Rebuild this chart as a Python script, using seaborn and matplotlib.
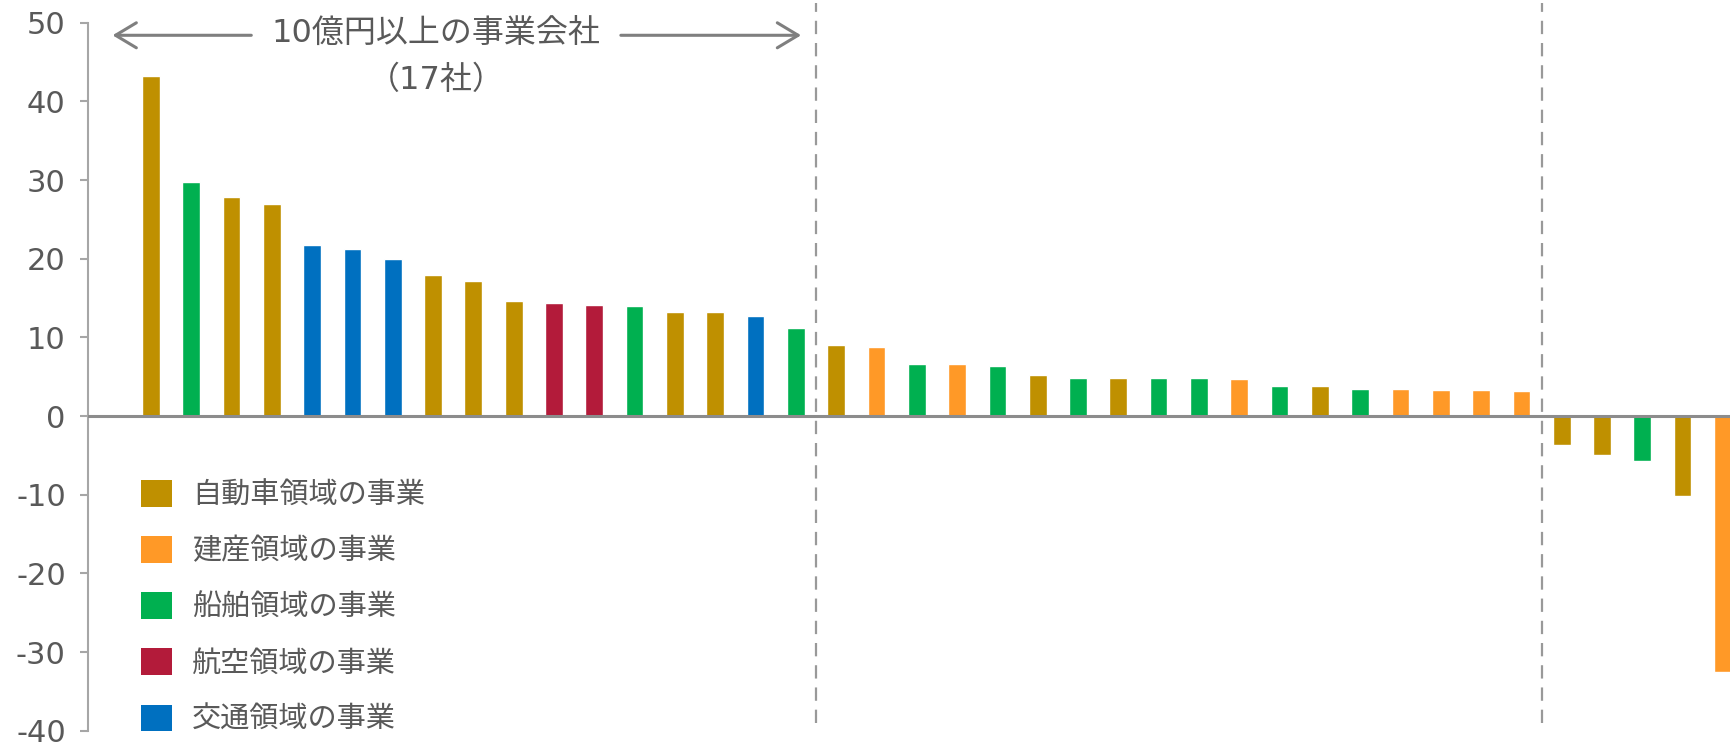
import matplotlib
matplotlib.use("Agg")
import matplotlib.pyplot as plt
import seaborn as sns
import pandas as pd
from matplotlib.patches import Patch

# ---- data ----
values = [43.2, 29.7, 27.8, 26.9, 21.8, 21.2, 19.9, 17.9, 17.2, 14.6, 14.4, 14.1, 14.0, 13.2, 13.2, 12.7, 11.2,
          9.0, 8.8, 6.6, 6.6, 6.4, 5.2, 4.8, 4.8, 4.8, 4.8, 4.7, 3.8, 3.8, 3.5, 3.4, 3.3, 3.3, 3.2,
          -3.7, -4.9, -5.7, -10.2, -32.6]
cat_keys = ["auto", "ship", "auto", "auto", "traffic", "traffic", "traffic", "auto", "auto", "auto", "air", "air",
            "ship", "auto", "auto", "traffic", "ship",
            "auto", "build", "ship", "build", "ship", "auto", "ship", "auto", "ship", "ship", "build", "ship",
            "auto", "ship", "build", "build", "build", "build",
            "auto", "auto", "ship", "auto", "build"]
legend_keys = ["auto", "build", "ship", "air", "traffic"]
legend_labels = ["自動車領域の事業", "建産領域の事業", "船舶領域の事業", "航空領域の事業", "交通領域の事業"]
group_boundaries = [16.5, 34.5]
annot_line1 = "10億円以上の事業会社"
annot_line2 = "（17社）"
yticks = [-40, -30, -20, -10, 0, 10, 20, 30, 40, 50]

palette = {"auto": "#BF9000", "build": "#FF9927", "ship": "#00B050", "air": "#B31B3A", "traffic": "#0070C0"}

sns.set_theme(style="white")
plt.rcParams["font.family"] = ["DejaVu Sans", "Noto Sans CJK JP"]
plt.rcParams["axes.unicode_minus"] = False

TXT = "#595959"
GRAY = "#A6A6A6"

df = pd.DataFrame({"idx": list(range(len(values))), "value": values, "cat": cat_keys})

fig = plt.figure(figsize=(17.31, 7.46), dpi=100)
ax = fig.add_axes([88 / 1731, 1 - 730.7 / 746, 1 - 88 / 1731, (730.7 - 22.7) / 746])

sns.barplot(data=df, x="idx", y="value", hue="cat", palette=palette, dodge=False,
            width=0.44, legend=False, ax=ax, saturation=1, zorder=2)

ax.set_xlim(-1.56, 39.2)
ax.set_ylim(-40, 50)
ax.set_yticks(yticks)
ax.set_xticks([])
ax.set_xlabel("")
ax.set_ylabel("")

for s in ["top", "right", "bottom"]:
    ax.spines[s].set_visible(False)
ax.spines["left"].set_color(GRAY)
ax.spines["left"].set_linewidth(1.5)
ax.tick_params(axis="y", left=True, length=6, width=1.5, color=GRAY, labelsize=22,
               labelcolor=TXT, pad=10)

ax.axhline(0, color="#8C8C8C", lw=2.2, zorder=3)

for xb in group_boundaries:
    ax.plot([xb, xb], [-39.0, 52.5], color="#999999", lw=1.6, ls=(0, (6, 4)), clip_on=False, zorder=1)

# annotation with arrows
arrow_kw = dict(arrowstyle="->,head_length=0.5,head_width=0.3", color="#7F7F7F", lw=2.2, mutation_scale=30)
ax.annotate("", xy=(-1.02, 48.4), xytext=(2.56, 48.4), arrowprops=arrow_kw)
ax.annotate("", xy=(16.2, 48.4), xytext=(11.59, 48.4), arrowprops=arrow_kw)
ax.text(7.07, 48.6, annot_line1, ha="center", va="center", fontsize=23, color=TXT)
ax.text(7.07, 42.6, annot_line2, ha="center", va="center", fontsize=23, color=TXT)

handles = [Patch(facecolor=palette[k], edgecolor="none") for k in legend_keys]
leg = ax.legend(handles, legend_labels, loc="upper left",
                bbox_to_anchor=(141 / 1731, 1 - 480 / 746), bbox_transform=fig.transFigure,
                frameon=False, fontsize=21, handlelength=1.06, handleheight=1.03,
                handletextpad=0.7, labelspacing=0.92, borderpad=0, borderaxespad=0)
for t in leg.get_texts():
    t.set_color(TXT)

fig.savefig("out.png", dpi=100)
